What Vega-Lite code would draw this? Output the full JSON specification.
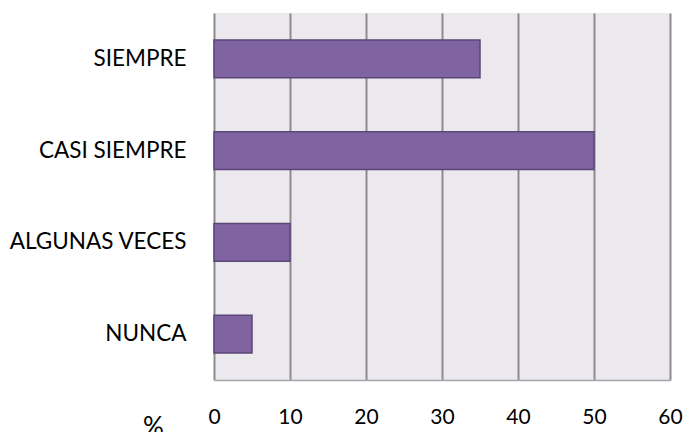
{
  "$schema": "https://vega.github.io/schema/vega-lite/v6.json",
  "autosize": "none",
  "width": 456,
  "height": 367,
  "padding": {"left": 214, "top": 13, "right": 16, "bottom": 52},
  "background": "white",
  "config": {
    "view": {"fill": "#EBE8EE", "stroke": null},
    "font": "Lato"
  },
  "data": {
    "values": [
      {"respuesta": "SIEMPRE", "pct": 35},
      {"respuesta": "CASI SIEMPRE", "pct": 50},
      {"respuesta": "ALGUNAS VECES", "pct": 10},
      {"respuesta": "NUNCA", "pct": 5}
    ]
  },
  "mark": {"type": "bar", "fill": "#8064A2", "stroke": "#5C4677", "strokeWidth": 1.5},
  "encoding": {
    "y": {
      "field": "respuesta",
      "type": "nominal",
      "sort": ["SIEMPRE", "CASI SIEMPRE", "ALGUNAS VECES", "NUNCA"],
      "scale": {"paddingInner": 0.59, "paddingOuter": 0.295},
      "axis": {
        "title": null,
        "ticks": false,
        "domain": false,
        "labelFont": "Lato",
        "labelFontSize": 22.5,
        "labelColor": "#000000",
        "labelPadding": 28,
        "labelLimit": 300
      }
    },
    "x": {
      "field": "pct",
      "type": "quantitative",
      "scale": {"domain": [0, 60], "nice": false},
      "axis": {
        "values": [0, 10, 20, 30, 40, 50, 60],
        "title": "%",
        "titleFont": "Lato",
        "titleFontSize": 26,
        "titleFontWeight": "normal",
        "titleColor": "#000000",
        "titleX": -61,
        "titleY": 55,
        "titleAlign": "center",
        "titleBaseline": "alphabetic",
        "ticks": false,
        "domain": true,
        "domainColor": "#A6A6A6",
        "domainWidth": 1.5,
        "grid": true,
        "gridColor": "#8C8C8C",
        "gridWidth": 2,
        "labelFont": "Lato",
        "labelFontSize": 21,
        "labelColor": "#000000",
        "labelPadding": 37,
        "labelBaseline": "middle",
        "labelFlush": false
      }
    }
  }
}
